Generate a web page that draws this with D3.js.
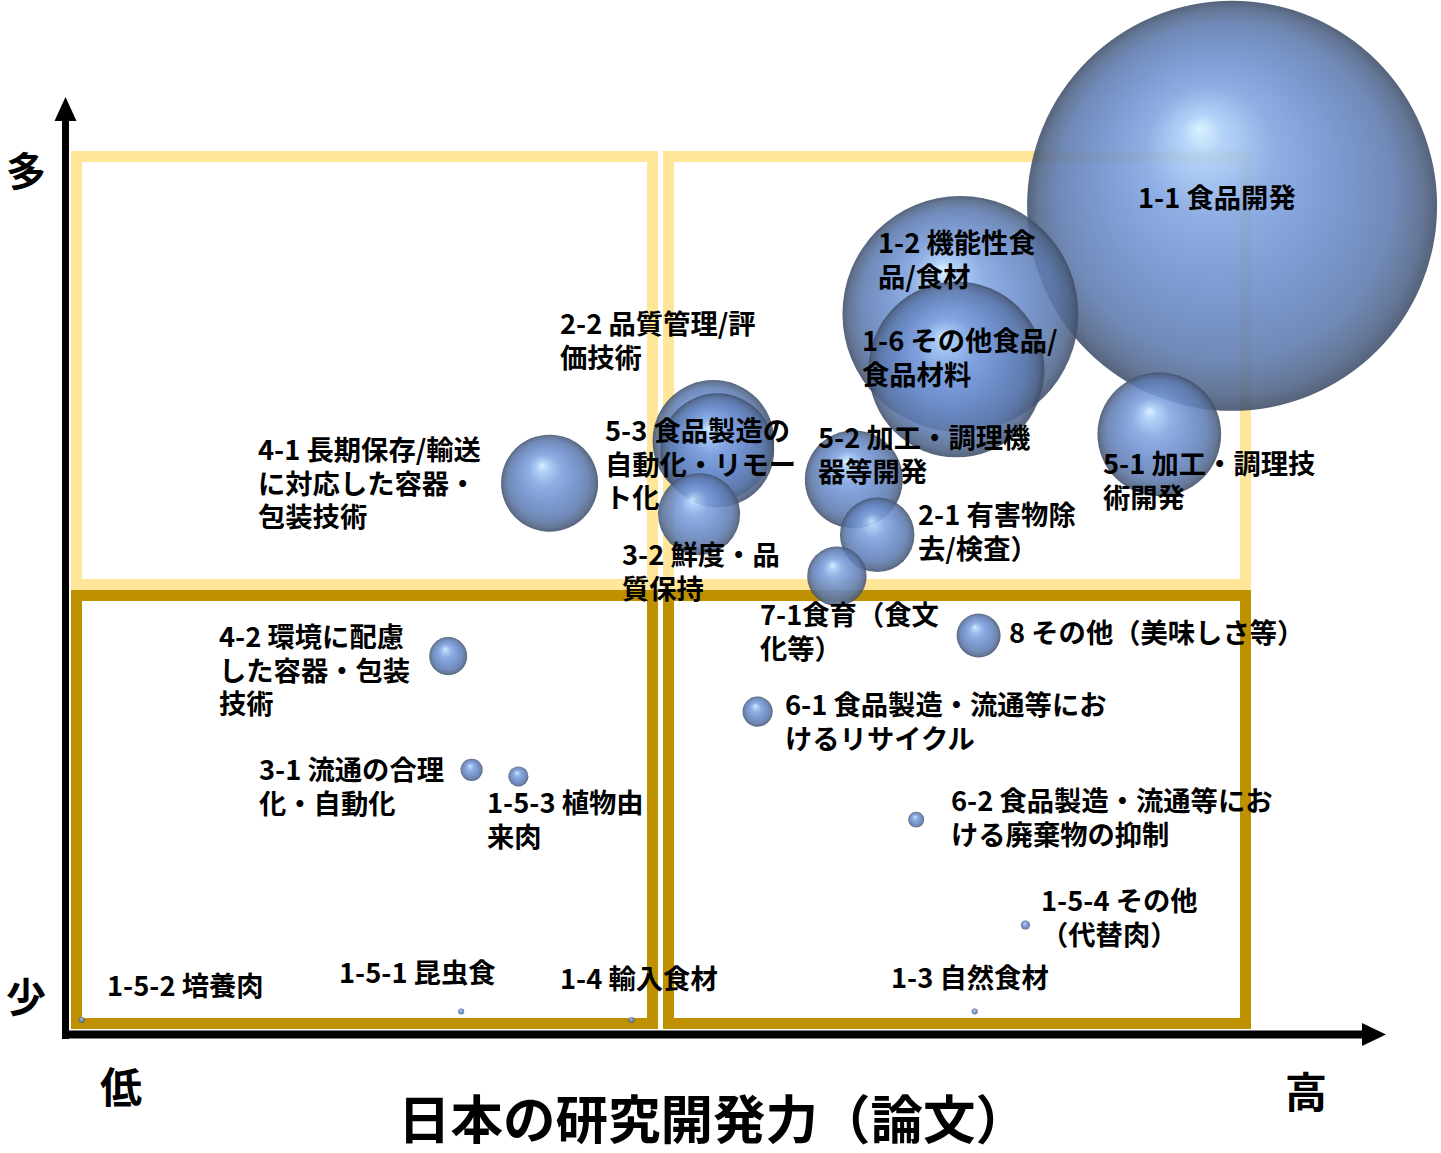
<!DOCTYPE html>
<html>
<head>
<meta charset="utf-8">
<script src="https://cdn.jsdelivr.net/npm/d3@7"></script>
<style>
  html, body { margin: 0; padding: 0; background: #fff; }
  svg { display: block; }
  text { font-family: "Noto Sans CJK JP", "Noto Sans", sans-serif; font-weight: 700; fill: #000; }
</style>
</head>
<body>
<svg id="chart" width="1441" height="1153"></svg>
<script>
// ---- data ----
const ids = ["1-1","1-2","1-6","2-2","5-3","5-1","4-1","5-2","3-2","2-1","7-1","8","4-2","6-1","3-1","1-5-3","6-2","1-5-4","1-3","1-5-2","1-5-1","1-4"];
const labels = [
  ["1-1 食品開発"],
  ["1-2 機能性食","品/食材"],
  ["1-6 その他食品/","食品材料"],
  ["2-2 品質管理/評","価技術"],
  ["5-3 食品製造の","自動化・リモー","ト化"],
  ["5-1 加工・調理技","術開発"],
  ["4-1 長期保存/輸送","に対応した容器・","包装技術"],
  ["5-2 加工・調理機","器等開発"],
  ["3-2 鮮度・品","質保持"],
  ["2-1 有害物除","去/検査）"],
  ["7-1食育（食文","化等）"],
  ["8 その他（美味しさ等）"],
  ["4-2 環境に配慮","した容器・包装","技術"],
  ["6-1 食品製造・流通等にお","けるリサイクル"],
  ["3-1 流通の合理","化・自動化"],
  ["1-5-3 植物由","来肉"],
  ["6-2 食品製造・流通等にお","ける廃棄物の抑制"],
  ["1-5-4 その他","（代替肉）"],
  ["1-3 自然食材"],
  ["1-5-2 培養肉"],
  ["1-5-1 昆虫食"],
  ["1-4 輸入食材"]
];
// x: 日本の研究開発力（論文）, y: 低/少 → 高/多 (relative scale 0-100), size: bubble volume (relative)
const xValues    = [89.7, 68.8, 68.5, 49.8, 50.1, 84.1, 37.2, 60.6, 48.7, 62.4, 59.3, 70.2, 29.4, 53.2, 31.2, 34.8, 65.4, 73.8, 69.9, 1.2, 30.4, 43.5];
const yValues    = [88.1, 76.6, 70.7, 63.1, 62.1, 63.8, 58.6, 59.0, 55.3, 53.1, 48.7, 42.4, 40.2, 34.3, 28.1, 27.4, 22.8, 11.6, 2.4, 1.5, 2.4, 1.5];
const sizeValues = [1000, 331, 184, 88, 77, 91, 56, 57, 40, 33, 21, 11.5, 8.6, 5.4, 2.9, 2.4, 1.5, 0.5, 0.21, 0.21, 0.21, 0.21];
const axisLabels = { yHigh: "多", yLow: "少", xLow: "低", xHigh: "高", xTitle: "日本の研究開発力（論文）" };

// ---- layout (label anchor: left x, centre of first line) ----
const labelPos = {
  "1-1":[1138,198], "1-2":[878,243], "1-6":[862,341], "2-2":[560,324], "5-3":[605,431],
  "5-1":[1103,464], "4-1":[258,450], "5-2":[818,438], "3-2":[622,555], "2-1":[918,515],
  "7-1":[760,615], "8":[1009,633], "4-2":[219,637], "6-1":[785,705], "3-1":[259,770],
  "1-5-3":[487,803], "6-2":[951,801], "1-5-4":[1041,901], "1-3":[891,978], "1-5-2":[107,986],
  "1-5-1":[339,973], "1-4":[560,979]
};

const svg = d3.select("#chart");
const x = d3.scaleLinear().domain([0, 100]).range([66, 1366]);
const y = d3.scaleLinear().domain([0, 100]).range([1034, 94]);
const r = d3.scaleSqrt().domain([0, 1000]).range([0, 205]);

// gradient
const defs = svg.append("defs");
const g = defs.append("radialGradient").attr("id", "sphere")
  .attr("cx", 0.5).attr("cy", 0.5).attr("r", 0.5).attr("fx", 0.42).attr("fy", 0.31);
[[0, "#d4f1ff"], [0.1, "#abcdf7"], [0.32, "#7fa3e0"], [0.6, "#6a8bc9"], [0.82, "#5d79ad"], [0.94, "#4f6488"], [1, "#3e4d68"]]
  .forEach(([o, c]) => g.append("stop").attr("offset", o).attr("stop-color", c));

// quadrant boxes
const sw = 11;
const quads = [
  { x0: 71, x1: 658, y0: 151, y1: 590, c: "#FFE699" },
  { x0: 663, x1: 1251, y0: 151, y1: 590, c: "#FFE699" },
  { x0: 71, x1: 658, y0: 590, y1: 1029, c: "#BF9000" },
  { x0: 663, x1: 1251, y0: 590, y1: 1029, c: "#BF9000" }
];
svg.append("g").selectAll("rect").data(quads).join("rect")
  .attr("x", d => d.x0 + sw / 2).attr("y", d => d.y0 + sw / 2)
  .attr("width", d => d.x1 - d.x0 - sw).attr("height", d => d.y1 - d.y0 - sw)
  .attr("fill", "none").attr("stroke", d => d.c).attr("stroke-width", sw);

// axes
const ax = svg.append("g");
ax.append("line").attr("x1", 65.5).attr("x2", 65.5).attr("y1", 1039).attr("y2", 118)
  .attr("stroke", "#000").attr("stroke-width", 7);
ax.append("path").attr("d", "M65.5,97 L54.5,121 L76.5,121 Z").attr("fill", "#000");
ax.append("line").attr("x1", 62).attr("x2", 1364).attr("y1", 1034.5).attr("y2", 1034.5)
  .attr("stroke", "#000").attr("stroke-width", 8);
ax.append("path").attr("d", "M1386,1034.5 L1362,1023 L1362,1046 Z").attr("fill", "#000");

// bubbles
const data = ids.map((id, i) => ({ id, lines: labels[i], xv: xValues[i], yv: yValues[i], s: sizeValues[i] }));
svg.append("g").selectAll("circle").data(data.slice().sort((a, b) => b.s - a.s)).join("circle")
  .attr("cx", d => x(d.xv)).attr("cy", d => y(d.yv)).attr("r", d => Math.max(3, r(d.s)))
  .attr("fill", "url(#sphere)").attr("fill-opacity", 0.88);

// labels
const fs = 27.3, lh = 33.5;
const lg = svg.append("g").attr("font-size", fs);
data.forEach(d => {
  const [lx, ly] = labelPos[d.id];
  d.lines.forEach((line, k) => {
    lg.append("text").attr("x", lx).attr("y", ly + 10 + k * lh).text(line);
  });
});

// axis labels
svg.append("text").attr("x", 26).attr("y", 186).attr("font-size", 40).attr("text-anchor", "middle").text(axisLabels.yHigh);
svg.append("text").attr("x", 26).attr("y", 1012).attr("font-size", 40).attr("text-anchor", "middle").text(axisLabels.yLow);
svg.append("text").attr("x", 121).attr("y", 1103).attr("font-size", 42).attr("text-anchor", "middle").text(axisLabels.xLow);
svg.append("text").attr("x", 1306).attr("y", 1108).attr("font-size", 42).attr("text-anchor", "middle").text(axisLabels.xHigh);
svg.append("text").attr("x", 398).attr("y", 1139).attr("font-size", 52.5)
  .text(axisLabels.xTitle);
</script>
</body>
</html>
